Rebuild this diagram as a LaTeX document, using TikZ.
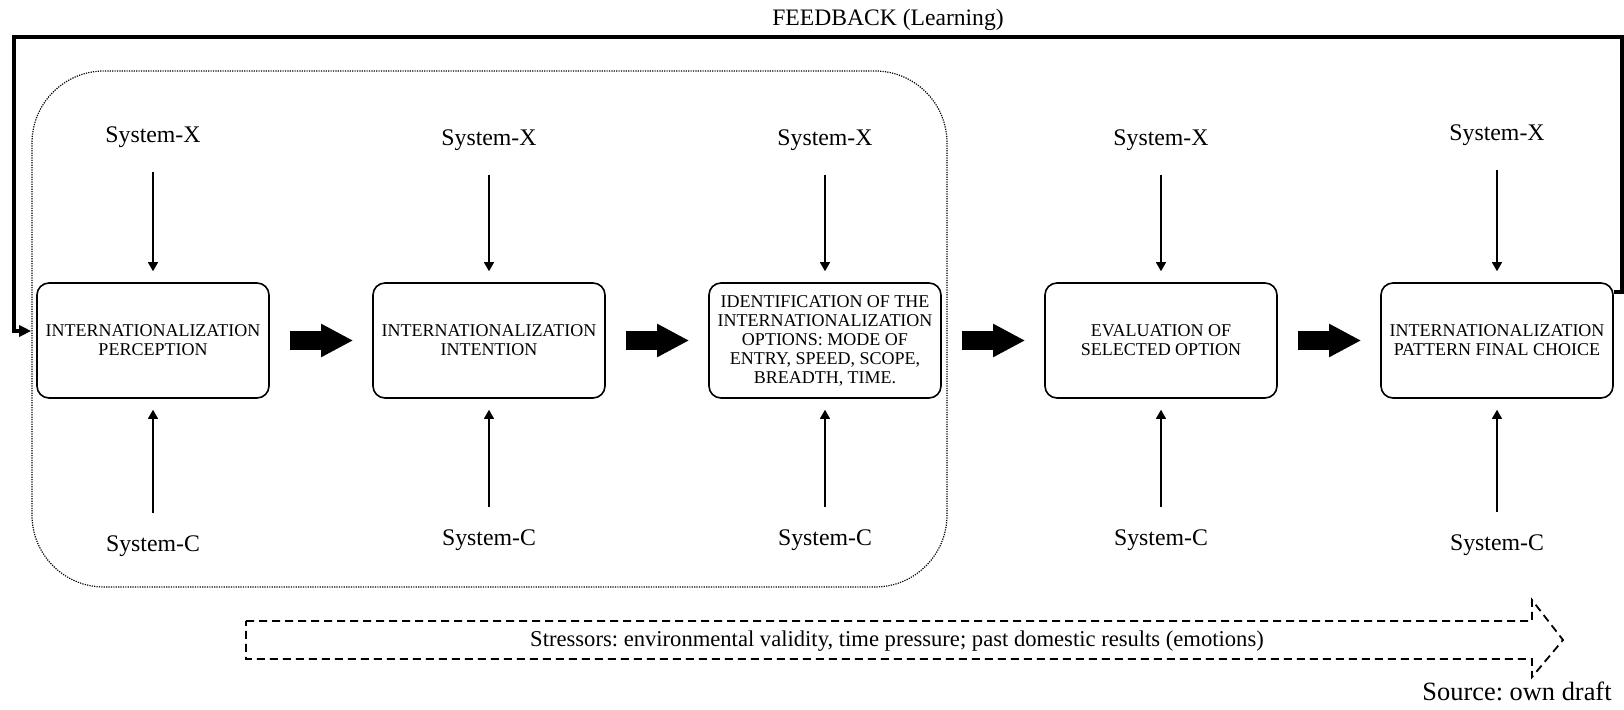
\documentclass[tikz,border=0pt]{standalone}
\usepackage{fontspec}
\setmainfont{Liberation Serif}
\usetikzlibrary{arrows.meta,calc}
\frenchspacing

\begin{document}
\begin{tikzpicture}[x=0.5pt,y=-0.5pt,
  stage/.style={draw, line width=0.8pt, rounded corners=6pt,
    minimum width=116pt, minimum height=57.5pt, align=center,
    font=\fontsize{9}{9.5}\selectfont, inner sep=0pt},
  sys/.style={font=\fontsize{11.9}{13}\selectfont, inner sep=0pt},
  inarrow/.style={line width=0.6pt, -{Triangle[length=4.5pt,width=5pt]}},
  topin/.style={inarrow, shorten <=12pt, shorten >=5.5pt},
  botin/.style={inarrow, shorten <=11pt, shorten >=5.5pt},
  bigarrow/.style={line width=9.5pt, -{Triangle[length=16pt,width=15.5pt]},
    shorten <=10pt, shorten >=9.5pt},
  feedback/.style={line width=1.7pt, -{Triangle[length=6pt,width=5.5pt]}},
  group/.style={line width=0.6pt, dash pattern=on 0.6pt off 0.6pt,
    rounded corners=36pt},
  stressline/.style={line width=0.9pt, dash pattern=on 4pt off 2.5pt},
]
\useasboundingbox (0,0) rectangle (1624,710);

% dotted frame round the first three stages
\draw[group] (32,71) rectangle (947,587);

% stages
\node[stage] (b1) at (153,340.5) {INTERNATIONALIZATION\\PERCEPTION};
\node[stage] (b2) at (489,340.5) {INTERNATIONALIZATION\\INTENTION};
\node[stage] (b3) at (825,340.5) {IDENTIFICATION OF THE\\INTERNATIONALIZATION\\OPTIONS: MODE OF\\ENTRY, SPEED, SCOPE,\\BREADTH, TIME.};
\node[stage] (b4) at (1161,340.5) {EVALUATION OF\\SELECTED OPTION};
\node[stage] (b5) at (1497,340.5) {INTERNATIONALIZATION\\PATTERN FINAL CHOICE};

% System-X above, System-C below each stage
\node[sys] (sx1) at (153,137) {System-X};
\node[sys] (sx2) at (489,140) {System-X};
\node[sys] (sx3) at (825,140) {System-X};
\node[sys] (sx4) at (1161,140) {System-X};
\node[sys] (sx5) at (1497,135) {System-X};
\node[sys] (sc1) at (153,546) {System-C};
\node[sys] (sc2) at (489,540) {System-C};
\node[sys] (sc3) at (825,540) {System-C};
\node[sys] (sc4) at (1161,540) {System-C};
\node[sys] (sc5) at (1497,545) {System-C};

\foreach \i in {1,...,5}{
  \draw[topin] (sx\i) -- (b\i);
  \draw[botin] (sc\i) -- (b\i);
}

% flow between stages
\draw[bigarrow] (b1) -- (b2);
\draw[bigarrow] (b2) -- (b3);
\draw[bigarrow] (b3) -- (b4);
\draw[bigarrow] (b4) -- (b5);

% feedback loop
\coordinate (fbR) at (1622,37);
\coordinate (fbL) at (14,37);
\draw[feedback] ($(b5.north east)+(0,10)$) -| (fbR) -- (fbL)
  |- ($(b1.west)+(-5,-9.5)$);
\node[sys, font=\fontsize{11.8}{13}\selectfont] (fbtext) at (888,20) {FEEDBACK (Learning)};

% stressors arrow
\draw[stressline] (246,621) -- (1532,621) -- (1532,600) -- (1563,640)
  -- (1532,677) -- (1532,659) -- (246,659) -- cycle;
\node[font=\fontsize{11.3}{12}\selectfont, inner sep=0pt] (stress) at (897,641)
  {Stressors: environmental validity, time pressure; past domestic results (emotions)};

\node[font=\fontsize{13.2}{14}\selectfont, inner sep=0pt, anchor=east] (src) at (1612,691) {Source: own draft};
\end{tikzpicture}
\end{document}
